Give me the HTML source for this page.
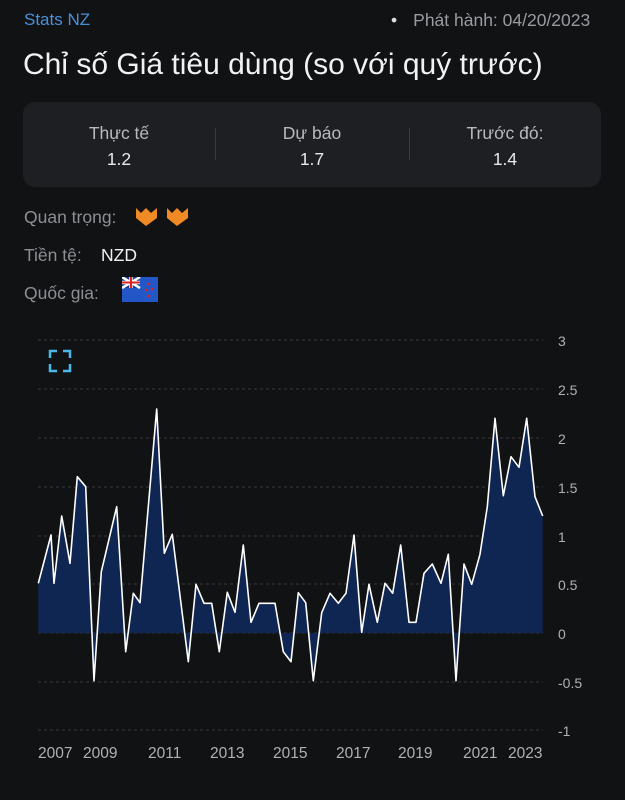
<!DOCTYPE html>
<html><head><meta charset="utf-8"><style>
body{margin:0;width:625px;height:800px;background:#111214;font-family:"Liberation Sans",sans-serif;color:#e8e8ea;position:relative;overflow:hidden}
.a{position:absolute;white-space:nowrap}
</style></head><body>
<div class="a" style="left:24px;top:10px;font-size:17px;color:#4a8fd8">Stats NZ</div>
<div class="a" style="left:391px;top:10px;font-size:17.5px;color:#9a9ba0"><span style="color:#ddd;margin-right:16px">•</span>Phát hành: 04/20/2023</div>
<div class="a" style="left:23px;top:48px;font-size:30px;color:#f2f2f4">Chỉ số Giá tiêu dùng (so với quý trước)</div>
<div class="a" style="left:23px;top:102px;width:578px;height:85px;background:#1e1f23;border-radius:12px"></div>
<div class="a" style="left:215px;top:128px;width:1px;height:32px;background:#3a3b40"></div>
<div class="a" style="left:409px;top:128px;width:1px;height:32px;background:#3a3b40"></div>
<div class="a" style="left:59px;top:123px;width:120px;text-align:center;font-size:17.5px;color:#b8b9bd">Thực tế</div>
<div class="a" style="left:59px;top:149px;width:120px;text-align:center;font-size:17.5px">1.2</div>
<div class="a" style="left:252px;top:123px;width:120px;text-align:center;font-size:17.5px;color:#b8b9bd">Dự báo</div>
<div class="a" style="left:252px;top:149px;width:120px;text-align:center;font-size:17.5px">1.7</div>
<div class="a" style="left:445px;top:123px;width:120px;text-align:center;font-size:17.5px;color:#b8b9bd">Trước đó:</div>
<div class="a" style="left:445px;top:149px;width:120px;text-align:center;font-size:17.5px">1.4</div>
<div class="a" style="left:24px;top:207px;font-size:17.5px;color:#8d8e93">Quan trọng:</div>
<svg class="a" style="left:135px;top:206px" width="56" height="22"><g fill="#f08a24"><path d="M1 2 L6 7 L11 2 L16 7 L22 2 L22 12 L11 20 L1 12Z"/><path d="M32 2 L37 7 L42 2 L47 7 L53 2 L53 12 L42 20 L32 12Z"/></g></svg>
<div class="a" style="left:24px;top:245px;font-size:17.5px;color:#8d8e93">Tiền tệ:</div>
<div class="a" style="left:101px;top:245px;font-size:17.5px;color:#f0f0f2">NZD</div>
<div class="a" style="left:24px;top:283px;font-size:17.5px;color:#8d8e93">Quốc gia:</div>
<svg class="a" style="left:122px;top:277px" width="36" height="25"><rect width="36" height="25" fill="#2357c8"/><rect width="18" height="11" fill="#1b3a8c"/><path d="M0 0L18 11M18 0L0 11" stroke="#fff" stroke-width="2.5"/><path d="M9 0V11M0 5.5H18" stroke="#fff" stroke-width="3.5"/><path d="M9 0V11M0 5.5H18" stroke="#d22" stroke-width="2"/><g fill="#d22"><circle cx="27" cy="7" r="1.3"/><circle cx="24" cy="13" r="1.3"/><circle cx="30" cy="12" r="1.3"/><circle cx="27" cy="19" r="1.3"/></g></svg>
<svg class="a" style="left:0;top:330px" width="625" height="470">
<g stroke="#3a3b40" stroke-dasharray="3,3" stroke-width="1">
<line x1="38" x2="543" y1="10" y2="10"/><line x1="38" x2="543" y1="59" y2="59"/><line x1="38" x2="543" y1="108" y2="108"/><line x1="38" x2="543" y1="157" y2="157"/><line x1="38" x2="543" y1="206" y2="206"/><line x1="38" x2="543" y1="254" y2="254"/><line x1="38" x2="543" y1="303" y2="303"/><line x1="38" x2="543" y1="352" y2="352"/><line x1="38" x2="543" y1="400" y2="400"/>
</g>
<g transform="translate(0,-330)">
<path fill="#0f2552" d="M38.3,633 L38.3,583.3 L51,535 L54,583.3 L61.7,516 L70,563.3 L77.3,476.7 L85.7,486.7 L94,680.7 L101.3,571.7 L116.7,506.7 L125.7,651.7 L133.3,593.3 L140,602.7 L156.7,409 L164.3,553.3 L172.3,534.3 L188.3,661.7 L196,584.3 L204,603.3 L211.7,603.3 L219.3,651.7 L227.3,592.3 L235,612.3 L243.3,545 L251,622.3 L259,603.3 L275,603.3 L283.3,651.7 L291,661.7 L298.3,592.7 L305.7,602.7 L313.3,680.7 L321.7,612.7 L330,593.3 L338.3,603.3 L346,593.3 L354,535 L361.7,632.3 L369,584.3 L377.3,622.3 L385,583.3 L392.7,593.3 L400.7,545 L409,622.3 L416,622.3 L424,573.3 L432.3,564 L441,583.3 L448.3,554.3 L456,680.7 L464,564 L471.7,584.3 L480,554.3 L487.3,506.7 L495,418.3 L503.3,495.7 L511,456.7 L519,467.3 L526.7,418.3 L535,496.7 L542.7,516 L542.7,633Z"/>
<polyline fill="none" stroke="#fff" stroke-width="1.6" stroke-linejoin="round" points="38.3,583.3 51,535 54,583.3 61.7,516 70,563.3 77.3,476.7 85.7,486.7 94,680.7 101.3,571.7 116.7,506.7 125.7,651.7 133.3,593.3 140,602.7 156.7,409 164.3,553.3 172.3,534.3 188.3,661.7 196,584.3 204,603.3 211.7,603.3 219.3,651.7 227.3,592.3 235,612.3 243.3,545 251,622.3 259,603.3 275,603.3 283.3,651.7 291,661.7 298.3,592.7 305.7,602.7 313.3,680.7 321.7,612.7 330,593.3 338.3,603.3 346,593.3 354,535 361.7,632.3 369,584.3 377.3,622.3 385,583.3 392.7,593.3 400.7,545 409,622.3 416,622.3 424,573.3 432.3,564 441,583.3 448.3,554.3 456,680.7 464,564 471.7,584.3 480,554.3 487.3,506.7 495,418.3 503.3,495.7 511,456.7 519,467.3 526.7,418.3 535,496.7 542.7,516"/>
</g>
<g fill="#b0b1b5" font-size="14" font-family="Liberation Sans,sans-serif">
<text x="558" y="16">3</text><text x="558" y="65">2.5</text><text x="558" y="114">2</text><text x="558" y="163">1.5</text><text x="558" y="212">1</text><text x="558" y="260">0.5</text><text x="558" y="309">0</text><text x="558" y="358">-0.5</text><text x="558" y="406">-1</text>
</g>
<g fill="#b0b1b5" font-size="15.5" font-family="Liberation Sans,sans-serif">
<text x="38" y="428">2007</text><text x="83" y="428">2009</text><text x="148" y="428">2011</text><text x="210" y="428">2013</text><text x="273" y="428">2015</text><text x="336" y="428">2017</text><text x="398" y="428">2019</text><text x="463" y="428">2021</text><text x="508" y="428">2023</text>
</g>
<g fill="none" stroke="#4ab8e8" stroke-width="2.5"><path d="M50 28V21H57M63 21H70V28M70 34V41H63M57 41H50V34"/></g>
</svg>
</body></html>
